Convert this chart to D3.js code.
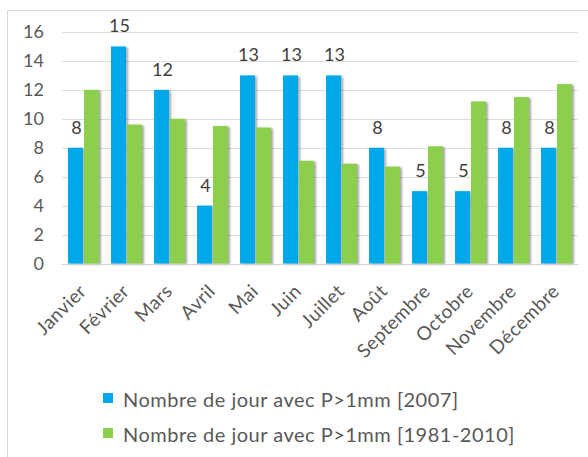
<!DOCTYPE html>
<html>
<head>
<meta charset="utf-8">
<script src="https://cdn.jsdelivr.net/npm/d3@7"></script>
<style>
  html, body { margin: 0; padding: 0; background: #fff; }
  svg { display: block; font-family: Lato, "Open Sans", sans-serif; }
</style>
</head>
<body>
<svg id="chart" width="588" height="457"></svg>
<script>
// Monthly count of days with precipitation > 1 mm
const months = ["Janvier", "Février", "Mars", "Avril", "Mai", "Juin", "Juillet",
                "Août", "Septembre", "Octobre", "Novembre", "Décembre"];
const days2007 = [8, 15, 12, 4, 13, 13, 13, 8, 5, 5, 8, 8];
const daysNormal = [12, 9.6, 10, 9.5, 9.4, 7.1, 6.9, 6.7, 8.1, 11.2, 11.5, 12.4];
const seriesNames = ["Nombre de jour avec P>1mm [2007]", "Nombre de jour avec P>1mm [1981-2010]"];
const seriesColors = ["#00a8ea", "#8ccf4d"];
const yTicks = [0, 2, 4, 6, 8, 10, 12, 14, 16];

const svg = d3.select("#chart");
const plot = { left: 62, right: 578, top: 32, bottom: 263.5 };

// Soft shadow under the bars
const defs = svg.append("defs");
const shadow = defs.append("filter").attr("id", "barShadow")
  .attr("x", "-30%").attr("y", "-10%").attr("width", "170%").attr("height", "120%");
shadow.append("feDropShadow").attr("dx", 2).attr("dy", 1)
  .attr("stdDeviation", 1.3).attr("flood-color", "#000").attr("flood-opacity", 0.35);

// Outer frame (top and left edges)
svg.append("path")
  .attr("d", "M7.5,457 V10.5 H588")
  .attr("fill", "none").attr("stroke", "#d9d9d9").attr("stroke-width", 1);

const x = d3.scaleBand().domain(months).range([plot.left, plot.right]).paddingInner(0.28).paddingOuter(0.14);
const xSeries = d3.scaleBand().domain([0, 1]).range([0, x.bandwidth()]).paddingInner(0.06);
const y = d3.scaleLinear().domain([0, 16]).range([plot.bottom, plot.top]);

// Horizontal gridlines
svg.append("g")
  .selectAll("line").data(yTicks.filter(t => t > 0)).join("line")
  .attr("x1", plot.left).attr("x2", plot.right)
  .attr("y1", d => Math.round(y(d)) + 0.5).attr("y2", d => Math.round(y(d)) + 0.5)
  .attr("stroke", "#dcdcdc").attr("stroke-width", 1);

// Y axis labels
const yAxis = svg.append("g").attr("transform", `translate(${plot.left},0)`)
  .call(d3.axisLeft(y).tickValues(yTicks).tickSize(0).tickPadding(18));
yAxis.select(".domain").remove();
yAxis.selectAll("text")
  .attr("fill", "#595959").style("font-size", "18px").style("font-family", "Lato, sans-serif");

// Bars
const groups = svg.append("g").selectAll("g").data(months).join("g")
  .attr("transform", d => `translate(${x(d)},0)`);

[days2007, daysNormal].forEach((vals, s) => {
  groups.append("rect")
    .attr("x", xSeries(s))
    .attr("width", xSeries.bandwidth())
    .attr("y", (d, i) => y(vals[i]))
    .attr("height", (d, i) => y(0) - y(vals[i]))
    .attr("fill", seriesColors[s])
    .attr("filter", "url(#barShadow)");
});

// Value labels above the 2007 bars
groups.append("text")
  .attr("x", xSeries(0) + xSeries.bandwidth() / 2 + 1)
  .attr("y", (d, i) => y(days2007[i]) - 14)
  .attr("text-anchor", "middle")
  .attr("fill", "#404040")
  .style("font-size", "18px")
  .text((d, i) => days2007[i]);

// Baseline
svg.append("line")
  .attr("x1", plot.left).attr("x2", plot.right)
  .attr("y1", Math.round(y(0)) + 0.5).attr("y2", Math.round(y(0)) + 0.5)
  .attr("stroke", "#d0d0d0");

// Month labels, rotated
const xAxis = svg.append("g").attr("transform", `translate(0,${plot.bottom})`)
  .call(d3.axisBottom(x).tickSize(0).tickPadding(0));
xAxis.select(".domain").remove();
xAxis.selectAll("text")
  .attr("text-anchor", "end")
  .attr("fill", "#595959")
  .style("font-size", "19px")
  .style("letter-spacing", "0.4px")
  .style("font-family", "Lato, sans-serif")
  .attr("dy", null).attr("y", null)
  .attr("transform", "translate(4,29) rotate(-45)");

// Legend
const legend = svg.append("g");
seriesNames.forEach((name, i) => {
  const ly = 398 + i * 35;
  legend.append("rect")
    .attr("x", 103).attr("y", ly - 5).attr("width", 10).attr("height", 10)
    .attr("fill", seriesColors[i]);
  legend.append("text")
    .attr("x", 123).attr("y", ly + 8.5)
    .attr("fill", "#595959")
    .style("font-size", "20px")
    .style("letter-spacing", "0.5px")
    .text(name);
});
</script>
</body>
</html>
